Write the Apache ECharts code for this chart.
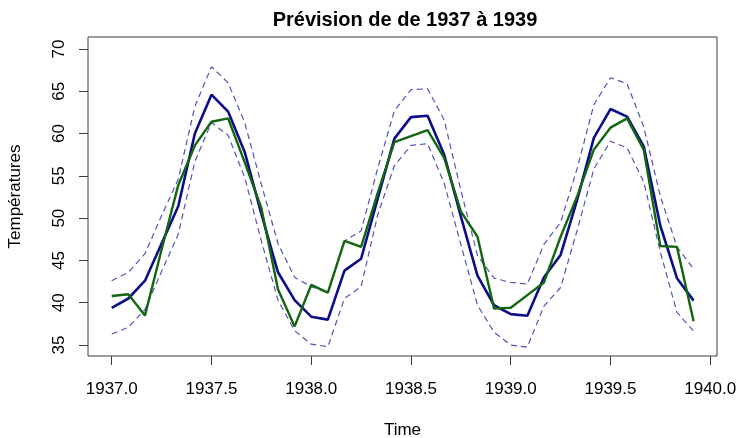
<!DOCTYPE html>
<html>
<head>
<meta charset="utf-8">
<title>Prévision de de 1937 à 1939</title>
<script src="https://cdn.jsdelivr.net/npm/echarts@6/dist/echarts.min.js"></script>
<style>
  html, body { margin: 0; padding: 0; background: #fff; }
  #chart { width: 740px; height: 438px; }
</style>
</head>
<body>
<div id="chart"></div>
<script>
// Monthly series, starting January 1937
const startYear = 1937;
const monthsPerYear = 12;

// Point forecast
const forecast = [
  39.4, 40.5, 42.6, 47.0, 51.4, 60.0, 64.6, 62.6, 57.8, 50.5, 43.6, 40.3,
  38.35, 38.0, 43.8, 45.2, 52.3, 59.4, 61.95, 62.1, 57.5, 50.2, 43.2, 39.7,
  38.65, 38.45, 43.0, 45.65, 52.2, 59.5, 62.9, 62.0, 58.5, 49.1, 42.9, 40.25
];

// Observed temperatures
const observed = [
  40.8, 41.0, 38.5, 46.3, 53.9, 58.6, 61.4, 61.8, 56.6, 51.2, 41.6, 37.2,
  42.1, 41.2, 47.3, 46.6, 53.0, 59.0, 59.7, 60.4, 57.1, 50.8, 47.8, 39.3,
  39.4, 40.9, 42.4, 47.8, 52.6, 58.1, 60.7, 61.8, 58.1, 46.7, 46.6, 37.8
];

// Prediction interval bounds
const upper = [
  42.6, 43.6, 45.8, 50.3, 54.6, 63.2, 67.9, 66.0, 61.3, 54.0, 47.0, 43.0,
  41.9, 41.2, 47.3, 48.5, 55.9, 62.7, 65.2, 65.3, 61.6, 53.3, 45.6, 42.9,
  42.4, 42.2, 46.9, 49.5, 55.9, 63.4, 66.6, 65.9, 60.8, 52.6, 46.6, 44.0
];
const lower = [
  36.3, 37.1, 39.2, 43.7, 48.1, 56.7, 61.3, 59.8, 54.8, 47.3, 40.3, 36.7,
  35.1, 34.8, 40.5, 41.9, 50.4, 56.2, 58.6, 58.8, 54.1, 46.9, 39.7, 36.5,
  35.0, 34.75, 39.6, 41.8, 48.6, 55.8, 59.1, 58.3, 54.3, 46.0, 38.85, 36.65
];

// Axis ticks
const xTicks = [1937.0, 1937.5, 1938.0, 1938.5, 1939.0, 1939.5, 1940.0];
const yTicks = [35, 40, 45, 50, 55, 60, 65, 70];

const chartTitle = 'Prévision de de 1937 à 1939';
const xName = 'Time';
const yName = 'Températures';

// Pair each value with its decimal time
const toPoints = values => values.map((v, i) => [startYear + i / monthsPerYear, v]);

const font = 'Liberation Sans, Arial, Helvetica, sans-serif';
const axisColor = '#3a3a3a';
const bandColor = '#5454b4';

const chart = echarts.init(document.getElementById('chart'), null, { renderer: 'canvas' });

chart.setOption({
  animation: false,
  backgroundColor: '#ffffff',
  textStyle: { fontFamily: font },
  title: {
    text: chartTitle,
    left: 400,
    top: 5,
    textAlign: 'center',
    textStyle: { fontFamily: font, fontSize: 20, fontWeight: 'bold', color: '#000' }
  },
  grid: {
    left: 88, right: 23, top: 37, bottom: 82,
    outerBoundsMode: 'none',
    containLabel: false,
    show: true, borderColor: axisColor, borderWidth: 1, backgroundColor: 'transparent'
  },
  xAxis: {
    type: 'value',
    min: 1936.881,
    max: 1940.034,
    name: xName,
    nameLocation: 'middle',
    nameGap: 66,
    nameTextStyle: { fontFamily: font, fontSize: 17, color: '#000' },
    axisLine: { show: false },
    splitLine: { show: false },
    axisTick: { show: true, length: 9, customValues: xTicks, lineStyle: { color: axisColor, width: 1 } },
    axisLabel: {
      customValues: xTicks,
      margin: 25,
      fontFamily: font, fontSize: 17, color: '#000',
      formatter: v => v.toFixed(1)
    }
  },
  yAxis: {
    type: 'value',
    min: 33.70,
    max: 71.42,
    name: yName,
    nameLocation: 'middle',
    nameRotate: 90,
    nameGap: 64,
    nameTextStyle: { fontFamily: font, fontSize: 17, color: '#000' },
    axisLine: { show: false },
    splitLine: { show: false },
    axisTick: { show: true, length: 9, customValues: yTicks, lineStyle: { color: axisColor, width: 1 } },
    axisLabel: {
      customValues: yTicks,
      rotate: 90,
      margin: 20,
      fontFamily: font, fontSize: 17, color: '#000',
      formatter: v => String(v)
    }
  },
  series: [
    {
      name: 'forecast', type: 'line', data: toPoints(forecast),
      symbol: 'none', lineStyle: { color: '#0d0d8a', width: 2.6 }, z: 2
    },
    {
      name: 'upper', type: 'line', data: toPoints(upper),
      symbol: 'none', lineStyle: { color: bandColor, width: 1.2, type: [6, 4] }, z: 3
    },
    {
      name: 'lower', type: 'line', data: toPoints(lower),
      symbol: 'none', lineStyle: { color: bandColor, width: 1.2, type: [6, 4] }, z: 3
    },
    {
      name: 'observed', type: 'line', data: toPoints(observed),
      symbol: 'none', lineStyle: { color: '#13650f', width: 2.4 }, z: 4
    }
  ]
});
</script>
</body>
</html>
